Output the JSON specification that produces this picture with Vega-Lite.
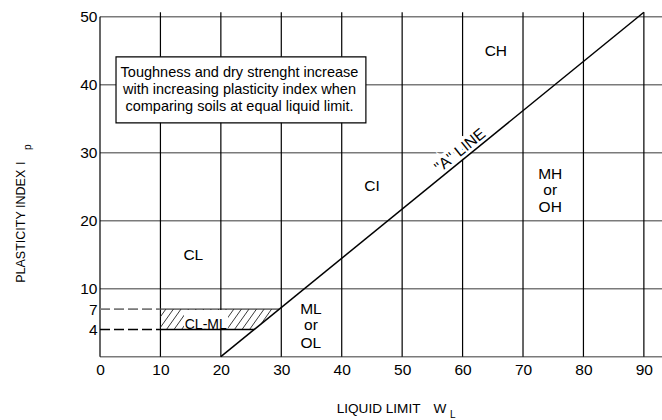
{
  "$schema": "https://vega.github.io/schema/vega-lite/v6.json",
  "width": 562,
  "height": 340,
  "autosize": {"type": "none"},
  "padding": {"left": 100, "top": 16.7, "right": 0, "bottom": 63.3},
  "background": "white",
  "config": {"view": {"stroke": null}, "font": "Liberation Sans"},
  "datasets": {
    "lines": [
      {"kind": "h", "x": 0, "y": 10, "x2": 93, "y2": 10},
      {"kind": "h", "x": 0, "y": 20, "x2": 93, "y2": 20},
      {"kind": "h", "x": 0, "y": 30, "x2": 93, "y2": 30},
      {"kind": "h", "x": 0, "y": 40, "x2": 93, "y2": 40},
      {"kind": "h", "x": 0, "y": 50, "x2": 93, "y2": 50},
      {"kind": "h", "x": 0, "y": 0, "x2": 93, "y2": 0},
      {"kind": "v", "x": 10, "y": 0, "x2": 10, "y2": 50.65},
      {"kind": "v", "x": 20, "y": 0, "x2": 20, "y2": 50.65},
      {"kind": "v", "x": 30, "y": 0, "x2": 30, "y2": 50.65},
      {"kind": "v", "x": 40, "y": 0, "x2": 40, "y2": 50.65},
      {"kind": "v", "x": 50, "y": 0, "x2": 50, "y2": 50.65},
      {"kind": "v", "x": 60, "y": 0, "x2": 60, "y2": 50.65},
      {"kind": "v", "x": 70, "y": 0, "x2": 70, "y2": 50.65},
      {"kind": "v", "x": 80, "y": 0, "x2": 80, "y2": 50.65},
      {"kind": "v", "x": 90, "y": 0, "x2": 90, "y2": 50.65},
      {"kind": "v", "x": 0, "y": 0, "x2": 0, "y2": 50},
      {"kind": "dashgray", "x": 0, "y": 7, "x2": 10, "y2": 7},
      {"kind": "dashblack", "x": 0, "y": 4, "x2": 10, "y2": 4},
      {"kind": "solidgray", "x": 10, "y": 7, "x2": 29.67, "y2": 7},
      {"kind": "solidblack", "x": 10, "y": 4, "x2": 25.53, "y2": 4},
      {"kind": "aline", "x": 20, "y": 0, "x2": 90, "y2": 50.65}
    ],
    "hatch": [
      {"x": 10, "y": 5.875, "x2": 10.9, "y2": 7},
      {"x": 10, "y": 4.31, "x2": 12.15, "y2": 7},
      {"x": 11, "y": 4, "x2": 13.4, "y2": 7},
      {"x": 12.25, "y": 4, "x2": 14.65, "y2": 7},
      {"x": 13.5, "y": 4, "x2": 15.9, "y2": 7},
      {"x": 14.75, "y": 4, "x2": 17.15, "y2": 7},
      {"x": 16, "y": 4, "x2": 18.4, "y2": 7},
      {"x": 17.25, "y": 4, "x2": 19.65, "y2": 7},
      {"x": 18.5, "y": 4, "x2": 20.9, "y2": 7},
      {"x": 19.75, "y": 4, "x2": 22.15, "y2": 7},
      {"x": 21, "y": 4, "x2": 23.4, "y2": 7},
      {"x": 22.25, "y": 4, "x2": 24.65, "y2": 7},
      {"x": 23.5, "y": 4, "x2": 25.9, "y2": 7},
      {"x": 24.75, "y": 4, "x2": 27.15, "y2": 7},
      {"x": 26.65, "y": 4.81, "x2": 28.4, "y2": 7}
    ],
    "boxes": [
      {"kind": "clml", "x": 13.9, "y": 4.12, "x2": 21.2, "y2": 6.88},
      {"kind": "note", "x": 2.65, "y": 34.4, "x2": 44.0, "y2": 44.1}
    ],
    "texts": [
      {"kind": "region", "x": 65.5, "y": 44.18, "text": "CH"},
      {"kind": "region", "x": 45.0, "y": 24.3, "text": "CI"},
      {"kind": "region", "x": 74.5, "y": 26.17, "text": "MH"},
      {"kind": "region", "x": 74.5, "y": 23.81, "text": "or"},
      {"kind": "region", "x": 74.5, "y": 21.3, "text": "OH"},
      {"kind": "region", "x": 15.44, "y": 14.24, "text": "CL"},
      {"kind": "region", "x": 34.9, "y": 6.29, "text": "ML"},
      {"kind": "region", "x": 34.9, "y": 3.93, "text": "or"},
      {"kind": "region", "x": 34.9, "y": 1.24, "text": "OL"},
      {"kind": "clml", "x": 17.5, "y": 4.1, "text": "CL-ML"},
      {"kind": "note", "x": 23.08, "y": 41.08, "text": "Toughness and dry strenght increase"},
      {"kind": "note", "x": 23.08, "y": 38.69, "text": "with increasing plasticity index when"},
      {"kind": "note", "x": 23.08, "y": 36.19, "text": "comparing soils at equal liquid limit."},
      {"kind": "aline", "x": 59.57, "y": 30.32, "text": "\"A\" LINE"},
      {"kind": "xtitle", "x": 46.1, "y": -8.34, "text": "LIQUID LIMIT"},
      {"kind": "xtitle", "x": 56.26, "y": -8.34, "text": "W"},
      {"kind": "xsub", "x": 57.9, "y": -9.03, "text": "L"},
      {"kind": "ytitle", "x": -12.4, "y": 19.18, "text": "PLASTICITY INDEX"},
      {"kind": "ytitle", "x": -12.4, "y": 28.45, "text": "I"},
      {"kind": "ysub", "x": -11.5, "y": 30.4, "text": "p"}
    ]
  },
  "encoding": {
    "x": {"field": "x", "type": "quantitative", "scale": {"domain": [0, 93], "nice": false, "zero": false},
      "axis": {"values": [0, 10, 20, 30, 40, 50, 60, 70, 80, 90], "domain": false, "ticks": false, "grid": false, "title": null,
        "labelFontSize": 15.5, "labelColor": "black", "labelPadding": 6, "labelFlush": false, "labelOverlap": false}},
    "y": {"field": "y", "type": "quantitative", "scale": {"domain": [0, 50], "nice": false, "zero": false},
      "axis": {"values": [4, 7, 10, 20, 30, 40, 50], "domain": false, "ticks": false, "grid": false, "title": null,
        "labelFontSize": 15.5, "labelColor": "black", "labelPadding": 3, "labelFlush": false, "labelOverlap": false}}
  },
  "layer": [
    {
      "data": {"name": "lines"},
      "transform": [{"filter": "datum.kind === 'h' || datum.kind === 'solidgray'"}],
      "mark": {"type": "rule", "stroke": "#7a7a7a", "strokeWidth": 1.6},
      "encoding": {"x2": {"field": "x2"}, "y2": {"field": "y2"}}
    },
    {
      "data": {"name": "lines"},
      "transform": [{"filter": "datum.kind === 'v'"}],
      "mark": {"type": "rule", "stroke": "black", "strokeWidth": 1.2},
      "encoding": {"x2": {"field": "x2"}, "y2": {"field": "y2"}}
    },
    {
      "data": {"name": "hatch"},
      "mark": {"type": "rule", "stroke": "#222", "strokeWidth": 0.9},
      "encoding": {"x2": {"field": "x2"}, "y2": {"field": "y2"}}
    },
    {
      "data": {"name": "boxes"},
      "transform": [{"filter": "datum.kind === 'clml'"}],
      "mark": {"type": "rect", "fill": "white"},
      "encoding": {"x2": {"field": "x2"}, "y2": {"field": "y2"}}
    },
    {
      "data": {"name": "lines"},
      "transform": [{"filter": "datum.kind === 'dashgray'"}],
      "mark": {"type": "rule", "stroke": "#7a7a7a", "strokeWidth": 1.6, "strokeDash": [10, 4]},
      "encoding": {"x2": {"field": "x2"}, "y2": {"field": "y2"}}
    },
    {
      "data": {"name": "lines"},
      "transform": [{"filter": "datum.kind === 'dashblack'"}],
      "mark": {"type": "rule", "stroke": "black", "strokeWidth": 1.3, "strokeDash": [10, 4]},
      "encoding": {"x2": {"field": "x2"}, "y2": {"field": "y2"}}
    },
    {
      "data": {"name": "lines"},
      "transform": [{"filter": "datum.kind === 'solidblack'"}],
      "mark": {"type": "rule", "stroke": "black", "strokeWidth": 1.3},
      "encoding": {"x2": {"field": "x2"}, "y2": {"field": "y2"}}
    },
    {
      "data": {"name": "boxes"},
      "transform": [{"filter": "datum.kind === 'note'"}],
      "mark": {"type": "rect", "fill": "white", "stroke": "black", "strokeWidth": 1.2},
      "encoding": {"x2": {"field": "x2"}, "y2": {"field": "y2"}}
    },
    {
      "data": {"name": "texts"},
      "transform": [{"filter": "datum.kind === 'aline'"}],
      "mark": {"type": "text", "fontSize": 15.5, "angle": -39, "align": "center", "baseline": "middle", "fill": "white", "stroke": "white", "strokeWidth": 6},
      "encoding": {"text": {"field": "text"}}
    },
    {
      "data": {"name": "lines"},
      "transform": [{"filter": "datum.kind === 'aline'"}],
      "mark": {"type": "rule", "stroke": "black", "strokeWidth": 1.5},
      "encoding": {"x2": {"field": "x2"}, "y2": {"field": "y2"}}
    },
    {
      "data": {"name": "texts"},
      "transform": [{"filter": "datum.kind === 'aline'"}],
      "mark": {"type": "text", "fontSize": 15.5, "angle": -39, "align": "center", "baseline": "middle", "fill": "black"},
      "encoding": {"text": {"field": "text"}}
    },
    {
      "data": {"name": "texts"},
      "transform": [{"filter": "datum.kind === 'region'"}],
      "mark": {"type": "text", "fontSize": 15.5, "align": "center", "baseline": "alphabetic", "fill": "black"},
      "encoding": {"text": {"field": "text"}}
    },
    {
      "data": {"name": "texts"},
      "transform": [{"filter": "datum.kind === 'clml'"}],
      "mark": {"type": "text", "fontSize": 14, "align": "center", "baseline": "alphabetic", "fill": "black"},
      "encoding": {"text": {"field": "text"}}
    },
    {
      "data": {"name": "texts"},
      "transform": [{"filter": "datum.kind === 'note'"}],
      "mark": {"type": "text", "fontSize": 14.5, "align": "center", "baseline": "alphabetic", "fill": "black"},
      "encoding": {"text": {"field": "text"}}
    },
    {
      "data": {"name": "texts"},
      "transform": [{"filter": "datum.kind === 'xtitle'"}],
      "mark": {"type": "text", "fontSize": 13.6, "align": "center", "baseline": "alphabetic", "fill": "black"},
      "encoding": {"text": {"field": "text"}}
    },
    {
      "data": {"name": "texts"},
      "transform": [{"filter": "datum.kind === 'xsub'"}],
      "mark": {"type": "text", "fontSize": 10, "align": "left", "baseline": "alphabetic", "fill": "black"},
      "encoding": {"text": {"field": "text"}}
    },
    {
      "data": {"name": "texts"},
      "transform": [{"filter": "datum.kind === 'ytitle'"}],
      "mark": {"type": "text", "fontSize": 12.5, "angle": 270, "align": "center", "baseline": "alphabetic", "fill": "black"},
      "encoding": {"text": {"field": "text"}}
    },
    {
      "data": {"name": "texts"},
      "transform": [{"filter": "datum.kind === 'ysub'"}],
      "mark": {"type": "text", "fontSize": 10, "angle": 270, "align": "left", "baseline": "alphabetic", "fill": "black"},
      "encoding": {"text": {"field": "text"}}
    }
  ]
}
